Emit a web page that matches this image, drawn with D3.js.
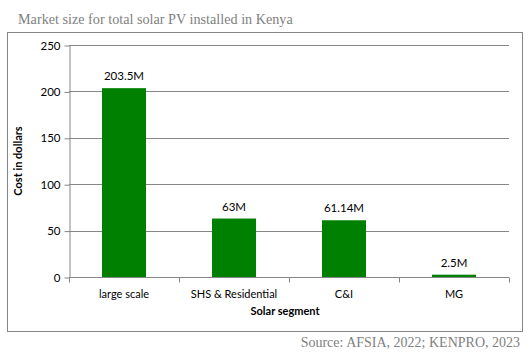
<!DOCTYPE html>
<html><head><meta charset="utf-8">
<script src="https://cdn.jsdelivr.net/npm/d3@7"></script>
<style>body{margin:0;background:#fff}svg{display:block}</style>
</head><body>
<script>
const categories = ["large scale", "SHS & Residential", "C&I", "MG"];
const values = [203.5, 63, 61.14, 2.5];
const valueLabels = ["203.5M", "63M", "61.14M", "2.5M"];
const yTicks = [0, 50, 100, 150, 200, 250];

const W = 530, H = 356;
const svg = d3.select("body").append("svg").attr("width", W).attr("height", H);
const gray = "#868686";
const font = "Lato, 'Open Sans', sans-serif";
const fs = 11;

svg.append("text").attr("x", 18).attr("y", 24)
  .attr("font-family", "'Liberation Serif', 'DejaVu Serif', serif").attr("font-size", 14.2)
  .attr("fill", "#7f7f7f").text("Market size for total solar PV installed in Kenya");

svg.append("rect").attr("x", 7.5).attr("y", 32.5).attr("width", 515).attr("height", 299)
  .attr("fill", "none").attr("stroke", gray).attr("stroke-width", 1);

const x = d3.scaleBand().domain(categories).range([69, 509]).paddingInner(0.6).paddingOuter(0.3);
const y = d3.scaleLinear().domain([0, 250]).range([277, 45]);

// gridlines
svg.append("g").selectAll("line").data(yTicks.slice(1)).join("line")
  .attr("x1", 69).attr("x2", 509)
  .attr("y1", d => Math.round(y(d)) + 0.5).attr("y2", d => Math.round(y(d)) + 0.5)
  .attr("stroke", gray);

// y axis
const ya = svg.append("g").attr("transform", "translate(69.5,0.5)")
  .call(d3.axisLeft(y).tickValues(yTicks).tickSize(5).tickPadding(4).tickSizeOuter(0));
ya.select(".domain").attr("stroke", gray);
ya.selectAll(".tick line").attr("stroke", gray);
ya.selectAll(".tick text").attr("font-family", font).attr("font-size", fs + 0.5).attr("fill", "#000");

// bars
svg.append("g").selectAll("rect").data(categories).join("rect")
  .attr("x", d => x(d)).attr("width", x.bandwidth())
  .attr("y", (d, i) => y(values[i])).attr("height", (d, i) => y(0) - y(values[i]))
  .attr("fill", "#008000");

// x axis
const xTickScale = d3.scaleLinear().domain([0, 4]).range([69, 509]);
const xa = svg.append("g").attr("transform", "translate(0," + (Math.round(y(0)) + 0.5) + ")");
xa.append("line").attr("x1", 69).attr("x2", 509).attr("stroke", gray);
xa.selectAll("line.t").data(d3.range(5)).join("line").attr("class", "t")
  .attr("x1", d => Math.round(xTickScale(d)) + 0.5).attr("x2", d => Math.round(xTickScale(d)) + 0.5)
  .attr("y1", 0).attr("y2", 5).attr("stroke", gray);
xa.selectAll("text").data(categories).join("text")
  .attr("x", d => x(d) + x.bandwidth() / 2).attr("y", 20)
  .attr("text-anchor", "middle").attr("font-family", font).attr("font-size", fs).text(d => d);

// value labels
svg.append("g").selectAll("text").data(categories).join("text")
  .attr("x", d => x(d) + x.bandwidth() / 2).attr("y", (d, i) => y(values[i]) - 8)
  .attr("text-anchor", "middle").attr("font-family", font).attr("font-size", fs + 0.5)
  .text((d, i) => valueLabels[i]);

// axis titles
svg.append("text").attr("x", 285).attr("y", 315).attr("text-anchor", "middle")
  .attr("font-family", font).attr("font-weight", "bold").attr("font-size", fs).text("Solar segment");
svg.append("text").attr("transform", "translate(22,161) rotate(-90)").attr("text-anchor", "middle")
  .attr("font-family", font).attr("font-weight", "bold").attr("font-size", fs).text("Cost in dollars");

// source
svg.append("text").attr("x", 520).attr("y", 347).attr("text-anchor", "end")
  .attr("font-family", "'Liberation Serif', 'DejaVu Serif', serif").attr("font-size", 14)
  .attr("fill", "#7f7f7f").text("Source: AFSIA, 2022; KENPRO, 2023");
</script>
</body></html>
